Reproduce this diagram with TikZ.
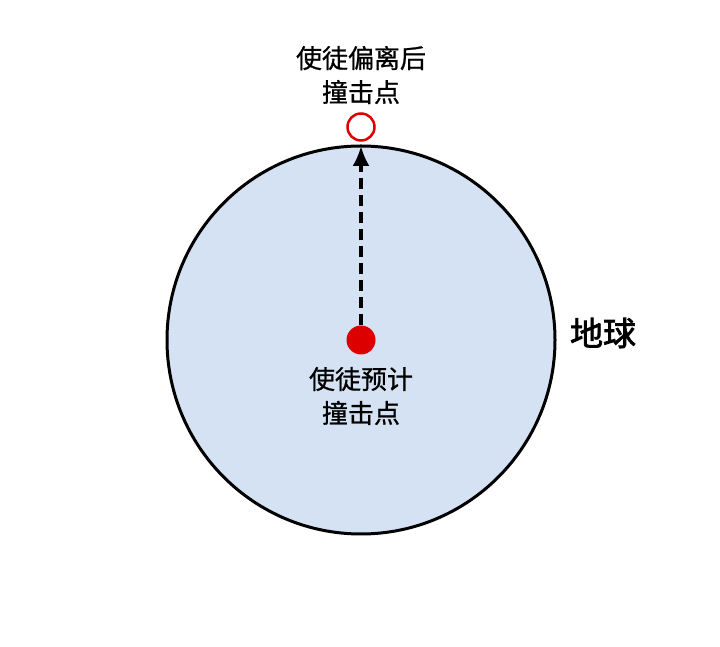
\documentclass[tikz,border=0pt]{standalone}
\usepackage{fontspec}
\setmainfont{Noto Sans CJK SC}
\newfontfamily\lblfont[FakeBold=0.8]{Noto Sans CJK SC}
\newfontfamily\earthfont[FakeBold=2.2]{Noto Sans CJK SC}
\usetikzlibrary{arrows.meta}
\definecolor{earthfill}{HTML}{D5E2F3}
\definecolor{hitred}{HTML}{DD0000}
\begin{document}
\begin{tikzpicture}[x=1pt,y=1pt,
  lbl/.style={align=center,font=\lblfont\fontsize{26}{34}\selectfont,inner sep=0pt},
  earth/.style={circle,draw=black,line width=3pt,fill=earthfill,minimum size=388pt,inner sep=0pt},
  reddot/.style={circle,fill=hitred,minimum size=29pt,inner sep=0pt},
  redring/.style={circle,draw=hitred,line width=2.5pt,fill=white,minimum size=27pt,inner sep=0pt},
  dasharrow/.style={line width=3.2pt,dash pattern=on 11pt off 6pt,-{Latex[length=20pt,width=17pt]}}]
\useasboundingbox (0,0) rectangle (720,647);
\node[earth] (earth) at (361,307) {};
\node[reddot] (pred) at (361,307) {};
\node[redring] (dev) at (361,520) {};
\coordinate (top) at (361,501);
\draw[dasharrow] (pred.north) -- (top);
\node[lbl] (devlbl) at (361,572) {使徒偏离后\\撞击点};
\node[lbl] (predlbl) at (361,251) {使徒预计\\撞击点};
\node[font=\earthfont\fontsize{33}{38}\selectfont,inner sep=0pt] (earthlbl) at (603,314) {地球};
\end{tikzpicture}
\end{document}
